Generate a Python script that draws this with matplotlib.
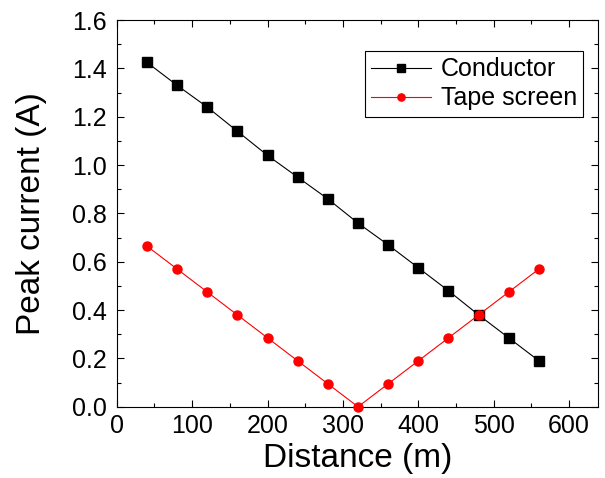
import numpy as np
import matplotlib.pyplot as plt
from matplotlib.ticker import MultipleLocator

plt.rcParams['font.family'] = ['Liberation Sans', 'DejaVu Sans']

# Peak current along the cable
distancia = [40, 80, 120, 160, 200, 240, 280, 320, 360, 400, 440, 480, 520, 560]
conductor = [1.425, 1.33, 1.24, 1.14, 1.04, 0.95, 0.86, 0.76, 0.67, 0.575, 0.48, 0.38, 0.285, 0.19]
pantalla = [0.665, 0.57, 0.475, 0.38, 0.285, 0.19, 0.095, 0.0, 0.095, 0.19, 0.285, 0.38, 0.475, 0.57]

fig = plt.figure(figsize=(6.05, 4.78), dpi=100)
ax = fig.add_axes([0.193, 0.149, 0.795, 0.809])

ax.plot(distancia, conductor, color='black', lw=0.8, marker='s', ms=6.5,
        label='Conductor', clip_on=False, zorder=3)
ax.plot(distancia, pantalla, color='#ff0000', lw=0.8, marker='o', ms=6.5,
        label='Tape screen', clip_on=False, zorder=3)

ax.set_xlim(0, 638)
ax.set_ylim(0, 1.6)
ax.xaxis.set_major_locator(MultipleLocator(100))
ax.xaxis.set_minor_locator(MultipleLocator(50))
ax.yaxis.set_major_locator(MultipleLocator(0.2))
ax.yaxis.set_minor_locator(MultipleLocator(0.1))
ax.yaxis.set_major_formatter(plt.FuncFormatter(lambda v, p: f'{v:.1f}'))

ax.tick_params(which='both', direction='in', top=True, right=True, labelsize=18, width=0.8)
ax.tick_params(which='major', length=5)
ax.tick_params(which='minor', length=3)
ax.tick_params(axis='y', which='major', pad=7)
ax.tick_params(axis='x', which='major', pad=5)
for s in ax.spines.values():
    s.set_linewidth(0.8)

ax.set_xlabel('Distance (m)', fontsize=24, labelpad=4)
ax.set_ylabel('Peak current (A)', fontsize=24, labelpad=18)

leg = ax.legend(loc='upper right', bbox_to_anchor=(0.97, 0.92), fontsize=18,
                fancybox=False, edgecolor='black', framealpha=1, handlelength=2.4,
                markerscale=0.8, borderpad=0.25, labelspacing=0.2, handletextpad=0.4,
                borderaxespad=0)
leg.get_frame().set_linewidth(0.8)

plt.savefig('out.png', dpi=100)
